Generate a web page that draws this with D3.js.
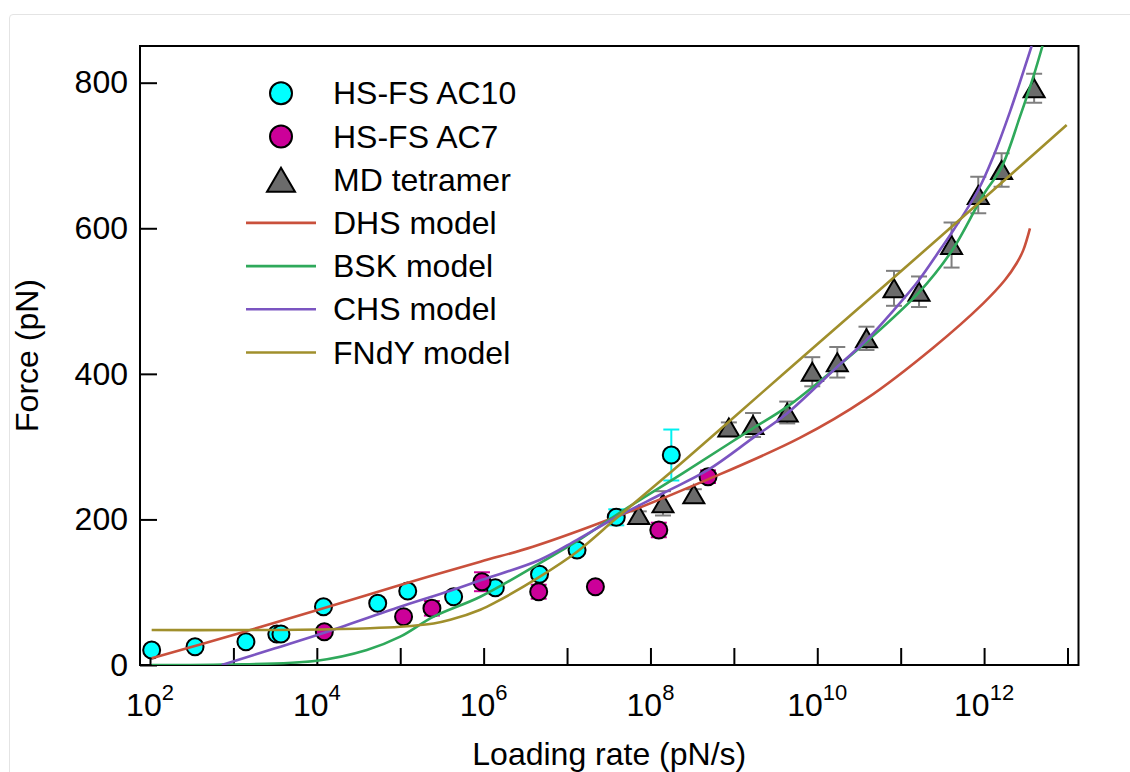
<!DOCTYPE html>
<html>
<head>
<meta charset="utf-8">
<script src="https://cdn.jsdelivr.net/npm/d3@7"></script>
<style>
  body { margin: 0; background: #fff; }
  .card { position: absolute; left: 9px; top: 14px; width: 1140px; height: 800px;
          border: 1px solid #e4e4e4; border-radius: 4px; }
  svg { position: absolute; left: 0; top: 0; }
  text { font-family: "Liberation Sans", Arial, Helvetica, sans-serif; fill: #000; }
</style>
</head>
<body>
<div class="card"></div>
<div class="graph"></div>
<script>
// log10 of loading rate (pN/s) and force (pN)
const ac10Rate  = [2.02, 2.54, 3.15, 3.52, 3.57, 4.08, 4.73, 5.09, 5.64, 6.14, 6.67, 7.12, 7.59, 8.25];
const ac10Force = [20.6, 25.1, 32, 42.6, 42.6, 80.1, 84.8, 101.7, 93.8, 106.2, 124.6, 158, 202.9, 288.5];
const ac10Err   = [0, 0, 0, 0, 0, 0, 0, 0, 0, 0, 0, 0, 11, 35];

const ac7Rate  = [4.09, 5.04, 5.38, 5.98, 6.66, 7.34, 8.10, 8.69];
const ac7Force = [45.7, 66.4, 77.9, 114.4, 100.7, 107.6, 185.5, 258.7];
const ac7Err   = [0, 0, 10, 13, 9.6, 0, 10, 8.7];

const mdRate  = [7.86, 8.15, 8.52, 8.94, 9.23, 9.64, 9.94, 10.24, 10.59, 10.92, 11.22, 11.61, 11.93, 12.21, 12.60];
const mdForce = [206.1, 222.1, 234.5, 326.3, 329.7, 346.9, 402.9, 415.9, 448.8, 517.5, 512.8, 577, 645.7, 680, 792.3];
const mdErr   = [5, 16.7, 7, 7, 16.5, 15, 20, 21, 16, 24, 21, 31, 25, 23, 20];

const dhsRate  = [2.02, 3.08, 4.08, 5.0, 5.96, 6.59, 7.59, 8.69, 9.79, 10.59, 11.39, 11.99, 12.25, 12.39, 12.47, 12.55];
const dhsForce = [9.2, 44, 77.9, 110, 141.9, 162.5, 203.7, 255, 312, 366, 436, 496.9, 528.9, 551.9, 570, 599.9];

const bskRate  = [2.02, 2.88, 4.0, 4.6, 5.0, 5.4, 5.96, 6.67, 7.12, 7.59, 8.39, 8.94, 9.23, 9.64, 10.24, 10.59, 11.22, 11.62, 11.99, 12.21, 12.43, 12.59, 12.70];
const bskForce = [0, 0.5, 5.9, 20.6, 38.9, 66.4, 93.8, 139.7, 170, 206.1, 263.6, 304, 325.2, 354.9, 409.8, 444, 512, 570.1, 645.7, 684, 753.3, 808, 850.4];

const chsRate  = [2.86, 3.5, 4.08, 5.0, 5.6, 5.98, 6.67, 7.12, 7.59, 8.15, 8.69, 9.23, 9.64, 10.24, 10.59, 10.92, 11.22, 11.47, 11.59, 11.93, 12.11, 12.31, 12.57];
const chsForce = [0, 23, 44, 80, 102, 117, 144.3, 172, 203, 236, 268, 312, 345.8, 409.8, 446.5, 488, 529, 570, 590, 652.6, 698.3, 760, 850.4];

const fndyRate  = [2.02, 3.0, 3.8, 4.64, 5.0, 5.4, 5.6, 5.96, 6.14, 6.67, 7.12, 7.59, 8.25, 8.94, 10.0, 11.0, 12.0, 12.99];
const fndyForce = [48, 48, 48.5, 50.5, 52.5, 57, 62, 76, 86, 121, 155.6, 201.5, 265.6, 334.3, 440.7, 540.6, 641.3, 742];

const xTickExps  = [2, 3, 4, 5, 6, 7, 8, 9, 10, 11, 12, 13];
const xLabelExps = [2, 4, 6, 8, 10, 12];
const yTicks     = [0, 200, 400, 600, 800];

const w = 1130;
const h = 772;
const plot = {left: 140, right: 1078.5, top: 46, bottom: 665};
const fs = 32;

const x = d3.scaleLog().domain([1e2, 1e13]).range([150, 1067.5]);
const y = d3.scaleLinear().domain([0, 800]).range([665, 82.7]);

const svg = d3.select(".graph")
              .append("svg")
              .attr("width", w)
              .attr("height", h);

svg.append("defs").append("clipPath")
   .attr("id", "clip")
   .append("rect")
   .attr("x", plot.left).attr("y", plot.top)
   .attr("width", plot.right - plot.left).attr("height", plot.bottom - plot.top);

// axes (ticks point inward)
const xAxis = d3.axisBottom(x)
                .tickValues(xTickExps.map(e => Math.pow(10, e)))
                .tickSize(-17)
                .tickFormat("");
const gx = svg.append("g")
              .attr("transform", `translate(0,${plot.bottom})`)
              .call(xAxis);
gx.select(".domain").remove();
gx.selectAll(".tick line").attr("stroke", "#000").attr("stroke-width", 2);

const yAxis = d3.axisLeft(y)
                .tickValues(yTicks)
                .tickSize(-17)
                .tickPadding(12);
const gy = svg.append("g")
              .attr("transform", `translate(${plot.left},0)`)
              .call(yAxis);
gy.select(".domain").remove();
gy.selectAll(".tick line").attr("stroke", "#000").attr("stroke-width", 2);
gy.selectAll(".tick text")
  .attr("font-size", fs)
  .attr("font-family", "'Liberation Sans', Arial, Helvetica, sans-serif")
  .attr("fill", "#000");

// x labels as 10^n
const xl = svg.append("g").selectAll("text")
              .data(xLabelExps)
              .enter().append("text")
              .attr("x", d => x(Math.pow(10, d)))
              .attr("y", 716)
              .attr("text-anchor", "middle")
              .attr("font-size", fs);
xl.append("tspan").text("10");
xl.append("tspan").attr("font-size", 22).attr("dy", -16).text(d => d);

// frame
svg.append("rect")
   .attr("x", plot.left).attr("y", plot.top)
   .attr("width", plot.right - plot.left).attr("height", plot.bottom - plot.top)
   .attr("fill", "none")
   .attr("stroke", "#000")
   .attr("stroke-width", 2);

svg.append("text")
   .attr("x", (plot.left + plot.right) / 2)
   .attr("y", 765)
   .attr("text-anchor", "middle")
   .attr("font-size", fs)
   .text("Loading rate (pN/s)");

svg.append("text")
   .attr("transform", `translate(38,${(plot.top + plot.bottom) / 2}) rotate(-90)`)
   .attr("text-anchor", "middle")
   .attr("font-size", fs)
   .text("Force (pN)");

function rows(rate, force, err) {
  return rate.map((r, i) => ({r: Math.pow(10, r), f: force[i], e: err ? err[i] : 0}));
}
function triangle(tw, th) {
  return `M0,${-th / 2}L${tw / 2},${th / 2}L${-tw / 2},${th / 2}Z`;
}

const series = [
  {data: rows(ac10Rate, ac10Force, ac10Err), shape: "circle", fill: "#00ffff", bar: "#00f0f0"},
  {data: rows(ac7Rate, ac7Force, ac7Err), shape: "circle", fill: "#cc0099", bar: "#cc0099"},
  {data: rows(mdRate, mdForce, mdErr), shape: "tri", fill: "#6b6b6b", bar: "#7f7f7f"}
];

const marks = svg.append("g").attr("clip-path", "url(#clip)");

// error bars
series.forEach(function(s) {
  const g = marks.append("g").attr("stroke", s.bar).attr("stroke-width", 2);
  s.data.filter(d => d.e > 0).forEach(function(d) {
    const cx = x(d.r);
    g.append("line").attr("x1", cx).attr("x2", cx).attr("y1", y(d.f - d.e)).attr("y2", y(d.f + d.e));
    g.append("line").attr("x1", cx - 8).attr("x2", cx + 8).attr("y1", y(d.f - d.e)).attr("y2", y(d.f - d.e));
    g.append("line").attr("x1", cx - 8).attr("x2", cx + 8).attr("y1", y(d.f + d.e)).attr("y2", y(d.f + d.e));
  });
});

// markers
series.forEach(function(s) {
  if (s.shape === "circle") {
    marks.append("g").selectAll("circle")
         .data(s.data).enter().append("circle")
         .attr("cx", d => x(d.r))
         .attr("cy", d => y(d.f))
         .attr("r", 8.5)
         .attr("fill", s.fill)
         .attr("stroke", "#000")
         .attr("stroke-width", 2);
  } else {
    marks.append("g").selectAll("path")
         .data(s.data).enter().append("path")
         .attr("d", triangle(21, 18))
         .attr("transform", d => `translate(${x(d.r)},${y(d.f)})`)
         .attr("fill", s.fill)
         .attr("stroke", "#000")
         .attr("stroke-width", 2);
  }
});

// model curves
const models = [
  {name: "DHS model",  data: rows(dhsRate, dhsForce),   color: "#c9503c"},
  {name: "BSK model",  data: rows(bskRate, bskForce),   color: "#2fa95b"},
  {name: "CHS model",  data: rows(chsRate, chsForce),   color: "#7b55c1"},
  {name: "FNdY model", data: rows(fndyRate, fndyForce), color: "#a08f2c"}
];

const line = d3.line()
               .x(d => x(d.r))
               .y(d => y(d.f))
               .curve(d3.curveCatmullRom.alpha(0.5));

marks.append("g").selectAll("path")
     .data(models).enter().append("path")
     .attr("d", d => line(d.data))
     .attr("fill", "none")
     .attr("stroke", d => d.color)
     .attr("stroke-width", 2.6);

// legend
const legend = svg.append("g").attr("id", "legend");
const legendItems = [
  {name: "HS-FS AC10", shape: "circle", fill: "#00ffff"},
  {name: "HS-FS AC7", shape: "circle", fill: "#cc0099"},
  {name: "MD tetramer", shape: "tri", fill: "#6b6b6b"}
].concat(models.map(m => ({name: m.name, shape: "line", fill: m.color})));

legendItems.forEach(function(d, i) {
  const cy = 93.3 + i * 43.2;
  if (d.shape === "circle") {
    legend.append("circle").attr("cx", 281).attr("cy", cy).attr("r", 11)
          .attr("fill", d.fill).attr("stroke", "#000").attr("stroke-width", 2);
  } else if (d.shape === "tri") {
    legend.append("path").attr("d", triangle(28, 24))
          .attr("transform", `translate(281,${cy})`)
          .attr("fill", d.fill).attr("stroke", "#000").attr("stroke-width", 2);
  } else {
    legend.append("line").attr("x1", 246).attr("x2", 316).attr("y1", cy).attr("y2", cy)
          .attr("stroke", d.fill).attr("stroke-width", 2.6);
  }
  legend.append("text")
        .attr("x", 333)
        .attr("y", cy + 11)
        .attr("font-size", fs)
        .text(d.name);
});
</script>
</body>
</html>
